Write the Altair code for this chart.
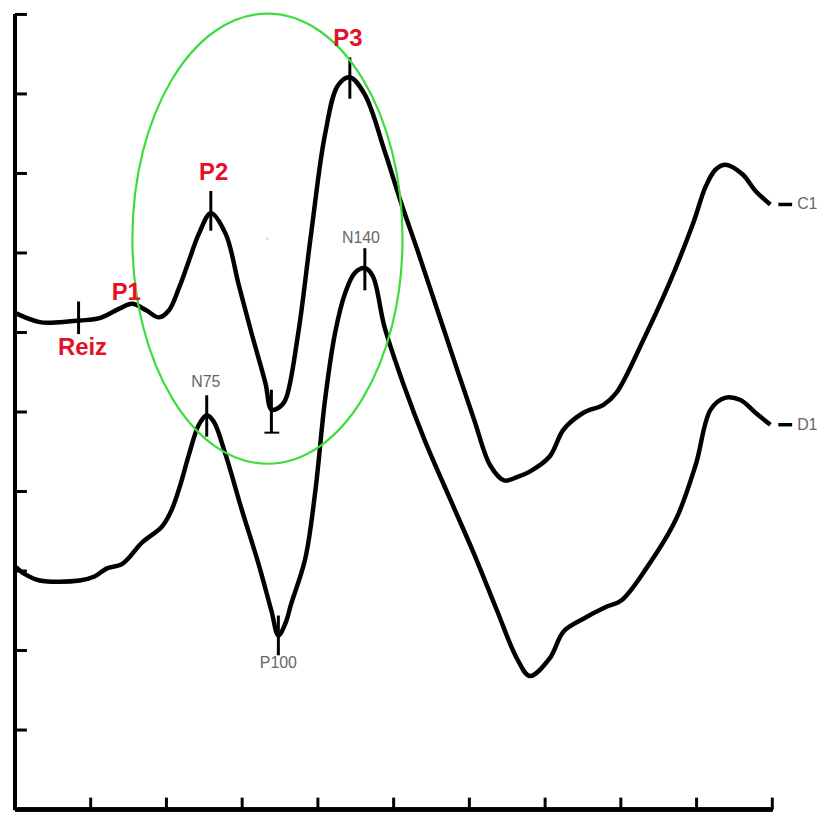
import altair as alt
import pandas as pd

# ---- data (x: ms-like units, 50 per tick; y: 1 unit per tick) ----
c1_x = [0.7, 16.4, 29.5, 42.7, 55.8, 68.9, 77.4, 86.6, 95.1, 101.7, 108.3, 114.8, 121.4, 129.3,
        139.1, 147.6, 156.2, 165.4, 169.3, 173.9, 178.5, 187.0, 195.5, 204.7, 213.3, 221.1, 231.0,
        244.1, 254.6, 265.8, 278.9, 292.0, 303.2, 313.7, 322.9, 331.4, 339.9, 353.0, 362.2, 375.3,
        388.5, 397.0, 414.7, 431.8, 447.5, 456.1, 462.6, 469.2, 480.3, 488.9, 498.7]
c1_y = [6.24, 6.13, 6.13, 6.15, 6.18, 6.30, 6.36, 6.28, 6.19, 6.28, 6.56, 6.90, 7.24, 7.50,
        7.24, 6.61, 5.99, 5.36, 5.03, 5.05, 5.15, 5.99, 7.24, 8.49, 9.11, 9.21, 8.99,
        8.28, 7.65, 7.03, 6.28, 5.53, 4.90, 4.33, 4.14, 4.18, 4.25, 4.44, 4.78, 4.99,
        5.09, 5.24, 5.90, 6.61, 7.36, 7.84, 8.05, 8.11, 7.99, 7.78, 7.61]

d1_x = [0.7, 6.6, 16.4, 42.7, 52.5, 60.4, 70.9, 84.0, 97.1, 103.7, 109.6, 114.8, 121.4, 126.6,
        131.2, 139.1, 149.6, 160.8, 169.3, 173.9, 178.5, 182.4, 191.6, 198.2, 204.7, 211.3,
        217.9, 224.4, 231.0, 236.2, 244.1, 257.2, 270.4, 287.4, 303.2, 318.3, 331.4, 339.9,
        353.0, 362.2, 375.3, 390.4, 400.3, 416.7, 436.4, 449.5, 459.3, 469.2, 479.0, 488.9, 498.7]
d1_y = [3.05, 2.96, 2.88, 2.88, 2.93, 3.03, 3.09, 3.36, 3.56, 3.78, 4.11, 4.46, 4.84, 4.96,
        4.88, 4.46, 3.78, 3.09, 2.50, 2.19, 2.34, 2.59, 3.15, 3.99, 5.15, 5.99,
        6.49, 6.75, 6.81, 6.71, 6.06, 5.31, 4.65, 3.90, 3.21, 2.50, 1.90, 1.68,
        1.90, 2.24, 2.40, 2.55, 2.63, 3.03, 3.65, 4.34, 5.03, 5.18, 5.15, 4.99, 4.84]

# peak markers (vertical ticks on the curves)
mark_names = ["Reiz", "P2", "P2min", "P3", "N75", "N140", "P100"]
mark_x = [42.0, 129.3, 169.3, 221.1, 126.6, 231.0, 173.9]
mark_y1 = [6.39, 7.78, 5.28, 9.46, 5.21, 7.06, 2.44]
mark_y2 = [5.98, 7.28, 4.74, 8.94, 4.69, 6.53, 1.94]

# red component labels
red_labels = ["P1", "P2", "P3", "Reiz"]
red_x = [73.5, 131.2, 219.8, 44.6]
red_y = [6.49, 8.00, 9.69, 5.80]

# grey component labels
grey_labels = ["N75", "N140", "P100"]
grey_x = [126.0, 228.4, 173.9]
grey_y = [5.38, 7.19, 1.84]

# trace names at the right end
trace_labels = ["C1", "D1"]
trace_y = [7.61, 4.84]
trace_label_x = 516.4
trace_dash_x = [504.0, 513.1]

# highlighted region (ellipse centre)
ellipse_x = [166.7]
ellipse_y = [7.18]

x_ticks = [50, 100, 150, 200, 250, 300, 350, 400, 450, 500]
y_ticks = [1, 2, 3, 4, 5, 6, 7, 8, 9, 10]

# ---- tables ----
curves = pd.concat([
    pd.DataFrame({"t": c1_x, "v": c1_y, "trace": "C1"}),
    pd.DataFrame({"t": d1_x, "v": d1_y, "trace": "D1"}),
])
marks = pd.DataFrame({"name": mark_names, "t": mark_x, "y1": mark_y1, "y2": mark_y2})
reds = pd.DataFrame({"lab": red_labels, "t": red_x, "v": red_y})
greys = pd.DataFrame({"lab": grey_labels, "t": grey_x, "v": grey_y})
traces = pd.DataFrame({"lab": trace_labels, "v": trace_y, "tl": trace_label_x,
                       "d1": trace_dash_x[0], "d2": trace_dash_x[1]})
ell = pd.DataFrame({"t": ellipse_x, "v": ellipse_y})
xt = pd.DataFrame({"t": x_ticks})
yt = pd.DataFrame({"v": y_ticks})
cap = pd.DataFrame({"t1": [164.7], "t2": [174.5], "v": [4.74]})

W, H = 762, 800
xs = alt.Scale(domain=[0, 500], nice=False, zero=False)
ys = alt.Scale(domain=[0, 10], nice=False, zero=False)

X = lambda f: alt.X(f, type="quantitative", scale=xs, axis=None)
Y = lambda f: alt.Y(f, type="quantitative", scale=ys, axis=None)

base = alt.Chart(curves)

# axes drawn by hand (ticks point inwards)
left_line = alt.Chart(yt).mark_rule(color="black", strokeWidth=3.5).encode(
    x=alt.value(0), y=alt.value(0), y2=alt.value(H))
bottom_line = alt.Chart(xt).mark_rule(color="black", strokeWidth=3.5).encode(
    y=alt.value(H), x=alt.value(0), x2=alt.value(W))
y_tick_marks = alt.Chart(yt).mark_rule(color="black", strokeWidth=3).encode(
    y=Y("v"), x=alt.value(0), x2=alt.value(12))
x_tick_marks = alt.Chart(xt).mark_rule(color="black", strokeWidth=3).encode(
    x=X("t"), y=alt.value(H), y2=alt.value(H - 12))

lines = base.mark_line(color="black", strokeWidth=4.5, interpolate="catmull-rom").encode(
    x=X("t"), y=Y("v"), detail="trace:N")

tick_rules = alt.Chart(marks).mark_rule(color="black", strokeWidth=3).encode(
    x=X("t"), y=Y("y1"), y2="y2")
cap_rule = alt.Chart(cap).mark_rule(color="black", strokeWidth=2).encode(
    x=X("t1"), x2="t2", y=Y("v"))

dashes = alt.Chart(traces).mark_rule(color="black", strokeWidth=3.5).encode(
    x=X("d1"), x2="d2", y=Y("v"))
trace_text = alt.Chart(traces).mark_text(
    align="left", baseline="middle", font="Liberation Sans", fontSize=16, color="#666666"
).encode(x=X("tl"), y=Y("v"), text="lab:N")

ellipse_path = ("M -0.6 0 C -0.6 -0.5523 -0.3314 -1 0 -1 C 0.3314 -1 0.6 -0.5523 0.6 0 "
                "C 0.6 0.5523 0.3314 1 0 1 C -0.3314 1 -0.6 0.5523 -0.6 0 Z")
ellipse = alt.Chart(ell).mark_point(
    shape=ellipse_path, size=453 * 453, filled=False, stroke="#3ddc3d", strokeWidth=2.2, opacity=1
).encode(x=X("t"), y=Y("v"))
centre_dot = alt.Chart(ell).mark_point(filled=True, size=6, color="#cccccc").encode(
    x=X("t"), y=Y("v"))

red_text = alt.Chart(reds).mark_text(
    align="center", baseline="middle", font="Liberation Sans", fontSize=24,
    fontWeight="bold", color="#e5102a"
).encode(x=X("t"), y=Y("v"), text="lab:N")
grey_text = alt.Chart(greys).mark_text(
    align="center", baseline="middle", font="Liberation Sans", fontSize=16, color="#666666"
).encode(x=X("t"), y=Y("v"), text="lab:N")

chart = alt.layer(
    lines, tick_rules, cap_rule, ellipse, centre_dot,
    left_line, bottom_line, y_tick_marks, x_tick_marks,
    dashes, trace_text, red_text, grey_text
).properties(
    width=W, height=H,
    padding={"left": 7, "top": 4, "right": 50, "bottom": 2},
    autosize=alt.AutoSizeParams(type="none"),
).configure(background="white").configure_view(stroke=None, strokeWidth=0)

chart.save("out.html", embed_options={"renderer": "svg", "actions": False})
